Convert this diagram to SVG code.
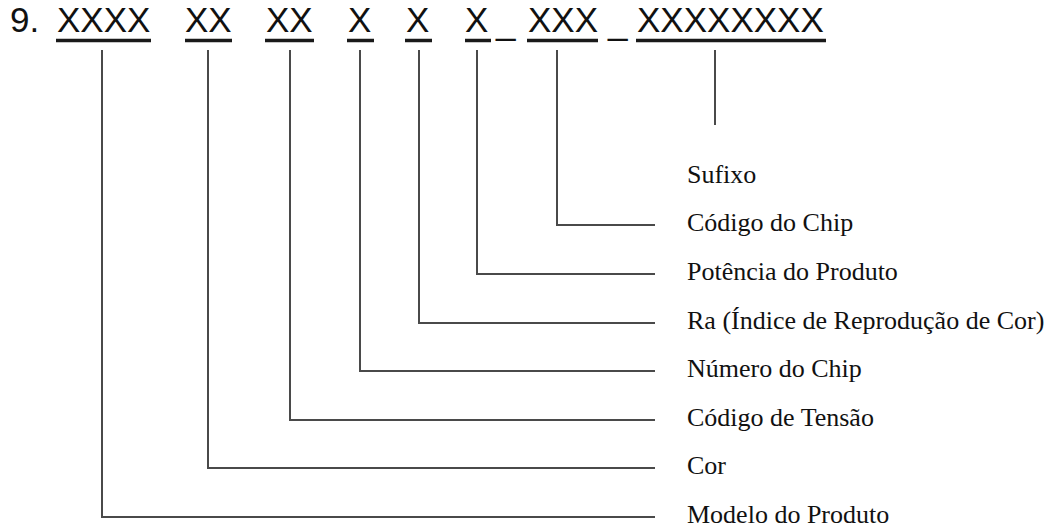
<svg xmlns="http://www.w3.org/2000/svg" width="1059" height="528" viewBox="0 0 1059 528">
<style>
.code{font-family:"Liberation Sans",Arial,sans-serif;font-size:35px;fill:#111}
.lbl{font-family:"Liberation Serif","Times New Roman",serif;font-size:26px;fill:#111}
.ul{stroke:#1a1a1a;stroke-width:3.5;fill:none}
.con{stroke:#4a4a4a;stroke-width:2;fill:none}
</style>
<rect width="1059" height="528" fill="#fff"/>
<g id="header">
<text class="code" x="10" y="32">9.</text>
<text class="code" x="57" y="32">XXXX</text>
<text class="code" x="185" y="32">XX</text>
<text class="code" x="266" y="32">XX</text>
<text class="code" x="348" y="32">X</text>
<text class="code" x="406" y="32">X</text>
<text class="code" x="465" y="32">X</text>
<text class="code" x="496" y="34" font-size="28">_</text>
<text class="code" x="528" y="32">XXX</text>
<text class="code" x="608" y="34" font-size="24">_</text>
<text class="code" x="637" y="32">XXXXXXXX</text>
<line class="ul" x1="56" y1="40.5" x2="151" y2="40.5"/>
<line class="ul" x1="185" y1="40.5" x2="232" y2="40.5"/>
<line class="ul" x1="265" y1="40.5" x2="314" y2="40.5"/>
<line class="ul" x1="347" y1="40.5" x2="374" y2="40.5"/>
<line class="ul" x1="405" y1="40.5" x2="432" y2="40.5"/>
<line class="ul" x1="465" y1="40.5" x2="491" y2="40.5"/>
<line class="ul" x1="527" y1="40.5" x2="598" y2="40.5"/>
<line class="ul" x1="636" y1="40.5" x2="826" y2="40.5"/>
</g>
<g id="connectors">
<polyline class="con" points="102,50 102,517 655,517"/>
<polyline class="con" points="208,50 208,468 655,468"/>
<polyline class="con" points="290,50 290,420 655,420"/>
<polyline class="con" points="360,50 360,371 655,371"/>
<polyline class="con" points="419,50 419,323 655,323"/>
<polyline class="con" points="477,50 477,274 655,274"/>
<polyline class="con" points="557,50 557,225 655,225"/>
<polyline class="con" points="715,50 715,125"/>
</g>
<g id="label-sufixo"><text class="lbl" x="687" y="183">Sufixo</text></g>
<g id="label-chip-code"><text class="lbl" x="687" y="231">Código do Chip</text></g>
<g id="label-power"><text class="lbl" x="687" y="280">Potência do Produto</text></g>
<g id="label-ra"><text class="lbl" x="687" y="329">Ra (Índice de Reprodução de Cor)</text></g>
<g id="label-chip-number"><text class="lbl" x="687" y="377">Número do Chip</text></g>
<g id="label-voltage"><text class="lbl" x="687" y="426">Código de Tensão</text></g>
<g id="label-color"><text class="lbl" x="687" y="474">Cor</text></g>
<g id="label-model"><text class="lbl" x="687" y="523">Modelo do Produto</text></g>
</svg>
